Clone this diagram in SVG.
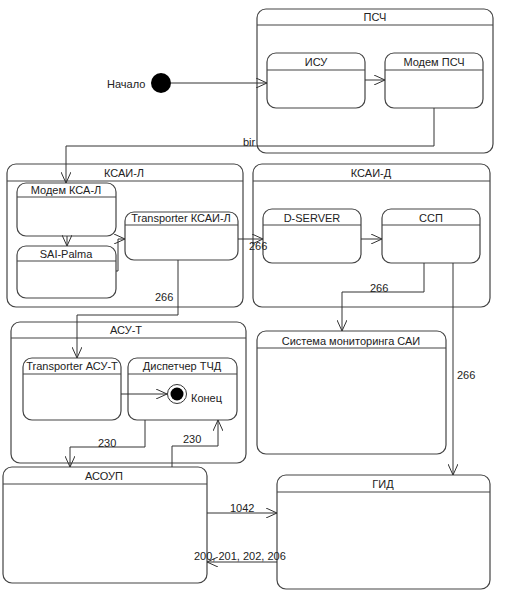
<svg xmlns="http://www.w3.org/2000/svg" width="518" height="611" viewBox="0 0 518 611">
<style>
.box{fill:#fff;stroke:#444;stroke-width:1.2}
.hd{stroke:#444;stroke-width:1.2}
.t{font-family:"Liberation Sans",Arial,sans-serif;font-size:11px;fill:#222;text-anchor:middle}
.l{font-family:"Liberation Sans",Arial,sans-serif;font-size:11px;fill:#222}
.c{fill:none;stroke:#333;stroke-width:1;marker-end:url(#a)}
</style>
<defs>
<marker id="a" viewBox="0 0 12 10" refX="11" refY="5" markerWidth="12" markerHeight="10" markerUnits="userSpaceOnUse" orient="auto">
<path d="M0,0 L11,5 L0,10" fill="none" stroke="#333" stroke-width="1"/>
</marker>
</defs>
<rect width="518" height="611" fill="#fff"/>

<g id="psch"><rect class="box" x="257" y="9" width="236" height="144" rx="9"/><line class="hd" x1="257" y1="25" x2="493" y2="25"/><text class="t" x="375" y="21">ПСЧ</text></g>
<g id="ksai-l"><rect class="box" x="7" y="164" width="236" height="143" rx="9"/><line class="hd" x1="7" y1="181" x2="243" y2="181"/><text class="t" x="124" y="177">КСАИ-Л</text></g>
<g id="ksai-d"><rect class="box" x="253" y="164" width="237" height="143" rx="9"/><line class="hd" x1="253" y1="181" x2="490" y2="181"/><text class="t" x="371" y="177">КСАИ-Д</text></g>
<g id="asu-t"><rect class="box" x="11" y="322" width="235" height="141" rx="9"/><line class="hd" x1="11" y1="338" x2="246" y2="338"/><text class="t" x="126" y="334">АСУ-Т</text></g>

<g id="isu"><rect class="box" x="267" y="53" width="98" height="55" rx="9"/><line class="hd" x1="267" y1="70" x2="365" y2="70"/><text class="t" x="316" y="66">ИСУ</text></g>
<g id="modem-psch"><rect class="box" x="385" y="53" width="98" height="55" rx="9"/><line class="hd" x1="385" y1="70" x2="483" y2="70"/><text class="t" x="434" y="66">Модем ПСЧ</text></g>
<g id="nachalo"><circle cx="161" cy="83" r="10" fill="#000"/><text class="l" x="107" y="88">Начало</text></g>

<g id="modem-ksa-l"><rect class="box" x="17" y="183" width="99" height="53" rx="9"/><line class="hd" x1="17" y1="197" x2="116" y2="197"/><text class="t" x="66" y="194">Модем КСА-Л</text></g>
<g id="sai-palma"><rect class="box" x="17" y="246" width="99" height="52" rx="9"/><line class="hd" x1="17" y1="261" x2="116" y2="261"/><text class="t" x="66" y="258">SAI-Palma</text></g>
<g id="transporter-ksai-l"><rect class="box" x="125" y="212" width="113" height="48" rx="9"/><line class="hd" x1="125" y1="225" x2="238" y2="225"/><text class="t" x="181" y="222">Transporter КСАИ-Л</text></g>

<g id="d-server"><rect class="box" x="263" y="209" width="98" height="54" rx="9"/><line class="hd" x1="263" y1="225" x2="361" y2="225"/><text class="t" x="312" y="222">D-SERVER</text></g>
<g id="ssp"><rect class="box" x="382" y="209" width="98" height="54" rx="9"/><line class="hd" x1="382" y1="225" x2="480" y2="225"/><text class="t" x="431" y="222">ССП</text></g>

<g id="transporter-asu-t"><rect class="box" x="23" y="358" width="98" height="62" rx="9"/><line class="hd" x1="23" y1="374" x2="121" y2="374"/><text class="t" x="72" y="370">Transporter АСУ-Т</text></g>
<g id="dispetcher"><rect class="box" x="128" y="358" width="109" height="62" rx="9"/><line class="hd" x1="128" y1="374" x2="237" y2="374"/><text class="t" x="182" y="370">Диспетчер ТЧД</text></g>
<g id="konec"><circle cx="177" cy="394" r="9.5" fill="#fff" stroke="#333" stroke-width="1"/><circle cx="177" cy="394" r="6.5" fill="#000"/><text class="l" x="191" y="402">Конец</text></g>

<g id="monitoring"><rect class="box" x="257" y="331" width="189" height="123" rx="9"/><line class="hd" x1="257" y1="348" x2="446" y2="348"/><text class="t" x="351" y="345">Система мониторинга САИ</text></g>
<g id="asoup"><rect class="box" x="3" y="467" width="204" height="116" rx="9"/><line class="hd" x1="3" y1="484" x2="207" y2="484"/><text class="t" x="104" y="480">АСОУП</text></g>
<g id="gid"><rect class="box" x="277" y="475" width="213" height="114" rx="9"/><line class="hd" x1="277" y1="492" x2="490" y2="492"/><text class="t" x="383" y="488">ГИД</text></g>

<g id="connectors">
<path class="c" d="M171,83 H267"/>
<path class="c" d="M365,80 H385"/>
<path class="c" d="M434,108 V146 H66 V183"/>
<text class="l" x="243" y="146">bir</text>
<path class="c" d="M67,236 V246"/>
<path class="c" d="M116,271 H118 V239 H125"/>
<path class="c" d="M238,239 H263"/>
<text class="l" x="249" y="250">266</text>
<path class="c" d="M361,239 H382"/>
<path class="c" d="M424,263 V292 H342 V331"/>
<text class="l" x="370" y="292">266</text>
<path class="c" d="M453,263 V475"/>
<text class="l" x="457" y="379">266</text>
<path class="c" d="M178,260 V315 H77 V358"/>
<text class="l" x="155" y="301">266</text>
<path class="c" d="M121,394 H167"/>
<path class="c" d="M145,420 V447 H70 V467"/>
<text class="l" x="98" y="447">230</text>
<path class="c" d="M172,467 V446 H218 V420"/>
<text class="l" x="183" y="443">230</text>
<path class="c" d="M207,513 H277"/>
<text class="l" x="230" y="512">1042</text>
<path class="c" d="M277,562 H207"/>
<text class="l" x="194" y="560">200, 201, 202, 206</text>
</g>
</svg>
